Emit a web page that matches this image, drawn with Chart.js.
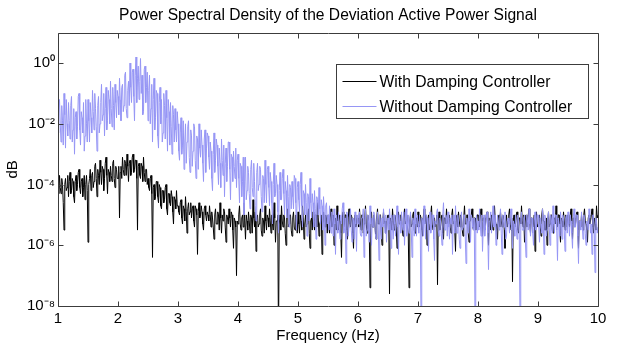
<!DOCTYPE html>
<html>
<head>
<meta charset="utf-8">
<title>Power Spectral Density</title>
<script src="https://cdn.jsdelivr.net/npm/chart.js@4.4.0/dist/chart.umd.min.js"></script>
<style>
  html, body { margin: 0; padding: 0; background: #fff; }
  canvas { display: block; }
</style>
</head>
<body>
<canvas id="psdChart" width="624" height="351"></canvas>
<script>
// Frequency bins of the PSD estimate (Hz)
const freqStart = 1;
const freqStep = 0.0125;

// log10 of the PSD, one value per bin (rows of 0.5 Hz)
const withDampingLog = [
    -4.0,-4.3,-3.7,-4.1,-4.3,-3.8,-4.0,-4.6,-5.5,-4.0,-3.8,-4.2,-4.1,-3.7,-4.4,-3.9,-3.6,-4.3,-4.2,-3.8,-3.9,-4.4,-4.6,-3.9,-3.7,-4.2,-4.0,-3.6,-3.5,-4.1,-4.3,-3.9,-3.8,-4.4,-4.1,-3.7,-4.5,-4.0,-3.7,-4.2,
    -5.9,-4.0,-3.8,-3.5,-4.2,-3.7,-3.6,-4.1,-3.9,-3.4,-3.3,-3.8,-4.4,-3.5,-3.7,-4.0,-3.2,-3.6,-4.0,-3.4,-3.5,-4.2,-3.8,-3.3,-3.1,-3.7,-4.3,-3.5,-3.6,-3.9,-3.4,-3.7,-3.9,-3.3,-3.2,-3.8,-4.1,-3.4,-3.5,-3.8,
    -3.8,-3.4,-5.1,-3.6,-3.4,-3.8,-3.1,-3.5,-3.7,-3.2,-3.3,-3.7,-3.0,-3.4,-3.9,-3.3,-3.2,-3.7,-3.6,-3.1,-3.0,-3.6,-3.5,-3.2,-3.2,-3.8,-5.5,-3.4,-3.3,-3.7,-3.8,-3.3,-3.4,-3.9,-3.1,-3.6,-3.9,-3.5,-3.5,-4.0,
    -3.8,-4.1,-4.2,-3.8,-3.7,-4.3,-6.4,-4.1,-4.0,-4.5,-4.4,-3.9,-3.9,-4.4,-4.6,-4.0,-4.1,-4.7,-4.8,-4.2,-4.2,-4.6,-4.5,-4.1,-4.0,-4.8,-5.0,-4.3,-4.3,-4.6,-4.7,-4.2,-4.4,-4.9,-5.3,-4.4,-4.5,-4.8,-4.2,-4.7,
    -4.7,-4.9,-5.0,-4.6,-4.5,-5.1,-5.3,-4.7,-4.8,-5.2,-4.4,-4.9,-5.6,-4.8,-4.6,-5.0,-4.9,-4.6,-5.1,-4.8,-4.7,-5.2,-5.4,-4.7,-4.8,-5.0,-6.3,-4.9,-4.6,-5.1,-5.0,-4.7,-4.9,-5.3,-5.5,-4.8,-4.7,-5.0,-5.2,-4.9,
    -5.0,-5.2,-4.7,-5.0,-5.4,-4.9,-5.1,-5.4,-5.8,-5.0,-4.8,-5.3,-5.3,-4.9,-5.0,-5.5,-4.6,-5.1,-5.6,-5.0,-5.2,-4.8,-4.9,-5.4,-5.9,-5.0,-5.1,-5.3,-4.8,-5.1,-5.4,-4.9,-5.0,-5.5,-6.1,-5.1,-5.2,-5.4,-7.0,-5.2,
    -5.3,-5.0,-4.7,-5.3,-5.5,-5.1,-5.0,-5.4,-4.6,-5.2,-5.8,-5.0,-5.2,-5.5,-4.9,-5.2,-5.6,-5.0,-5.1,-5.6,-4.5,-5.1,-5.4,-4.9,-6.2,-5.1,-5.0,-5.4,-5.3,-5.0,-4.8,-5.5,-5.7,-5.1,-5.2,-5.6,-4.7,-5.2,-5.5,-5.0,
    -5.1,-5.4,-4.8,-5.2,-5.6,-5.0,-5.3,-5.5,-4.6,-5.1,-5.9,-5.2,-5.2,-5.0,-9.2,-5.3,-5.0,-5.5,-4.7,-5.2,-5.4,-5.0,-5.1,-5.6,-6.0,-5.1,-4.8,-5.4,-5.3,-5.0,-5.0,-5.5,-5.7,-5.1,-4.9,-5.4,-5.5,-5.0,-5.2,-5.6,
    -4.9,-5.3,-5.6,-5.0,-5.2,-5.5,-4.7,-5.1,-5.8,-5.3,-5.0,-5.4,-5.3,-5.0,-4.8,-5.6,-6.1,-5.2,-5.1,-5.5,-4.9,-5.2,-5.5,-5.0,-5.0,-5.4,-4.6,-5.1,-5.7,-5.3,-5.2,-5.0,-6.3,-5.4,-4.9,-5.2,-5.4,-5.0,-5.1,-5.6,
    -5.0,-5.3,-5.6,-5.1,-4.8,-5.4,-5.3,-5.0,-6.0,-5.2,-5.1,-5.5,-4.7,-5.2,-5.5,-5.0,-5.2,-5.6,-6.4,-5.1,-4.9,-5.4,-5.3,-5.0,-5.0,-5.5,-5.8,-5.1,-4.8,-5.3,-5.4,-5.0,-5.1,-5.6,-6.1,-5.2,-5.0,-5.4,-5.3,-5.1,
    -5.1,-5.4,-4.8,-5.2,-5.5,-5.0,-5.0,-5.6,-5.3,-5.1,-4.7,-5.3,-5.6,-5.0,-5.2,-5.5,-7.4,-5.2,-4.9,-5.4,-5.4,-5.0,-5.1,-5.5,-5.8,-5.1,-4.8,-5.3,-5.3,-5.0,-5.0,-5.6,-6.0,-5.2,-4.9,-5.3,-5.2,-5.6,-5.5,-5.1,
    -5.0,-5.3,-7.6,-5.1,-5.2,-5.5,-4.8,-5.2,-5.5,-5.0,-5.1,-5.4,-6.1,-5.1,-4.9,-5.3,-5.3,-5.0,-5.0,-5.5,-5.7,-5.1,-4.8,-5.3,-5.2,-5.0,-5.4,-5.6,-7.4,-5.2,-5.0,-5.4,-5.3,-5.0,-4.9,-5.5,-5.6,-5.1,-5.1,-5.4,
    -4.9,-5.2,-5.4,-5.0,-5.1,-5.5,-5.7,-5.1,-4.8,-5.3,-5.2,-5.0,-6.0,-5.2,-5.0,-5.5,-5.3,-5.0,-4.7,-5.3,-5.5,-5.1,-5.1,-5.4,-5.2,-5.0,-7.3,-5.2,-4.9,-5.5,-5.4,-5.1,-5.0,-5.6,-5.8,-5.1,-5.1,-5.3,-4.8,-5.2,
    -5.3,-5.1,-5.0,-5.4,-5.6,-5.0,-4.8,-5.3,-5.2,-5.5,-6.2,-5.1,-5.0,-5.4,-4.9,-5.2,-5.4,-5.0,-5.1,-5.5,-5.7,-5.1,-4.7,-5.3,-5.3,-5.0,-5.0,-5.6,-5.9,-5.2,-5.2,-5.0,-4.8,-5.4,-5.5,-5.1,-5.1,-5.5,-5.3,-5.0,
    -5.0,-5.3,-5.4,-5.0,-4.8,-5.2,-5.7,-5.1,-5.1,-5.5,-5.3,-5.0,-4.9,-5.4,-6.0,-5.1,-5.2,-5.5,-5.0,-5.3,-5.5,-5.0,-4.7,-5.2,-5.3,-5.5,-5.8,-5.1,-5.0,-5.4,-4.9,-5.2,-5.4,-5.0,-5.1,-5.5,-6.1,-5.2,-5.0,-5.4,
    -5.2,-5.0,-4.8,-5.3,-5.5,-5.1,-7.2,-5.2,-5.0,-5.4,-5.3,-5.0,-4.9,-5.5,-5.6,-5.1,-5.1,-5.3,-4.7,-5.2,-5.4,-5.0,-5.9,-5.2,-5.0,-5.4,-5.2,-5.0,-4.8,-5.3,-5.6,-5.1,-5.1,-5.4,-5.3,-5.0,-6.2,-5.2,-4.9,-5.4,
    -5.3,-5.1,-5.0,-5.4,-5.7,-5.0,-4.8,-5.2,-5.2,-5.5,-5.5,-5.1,-6.0,-5.2,-4.9,-5.4,-5.3,-5.0,-5.0,-5.5,-5.6,-5.1,-5.1,-5.3,-4.7,-5.2,-5.4,-5.0,-5.0,-5.5,-5.9,-5.1,-5.2,-5.4,-4.9,-5.2,-5.5,-5.0,-5.1,-5.4,
    -5.0,-5.2,-5.4,-5.0,-4.8,-5.3,-5.8,-5.1,-5.1,-5.4,-5.3,-5.0,-4.9,-5.5,-6.1,-5.2,-5.2,-5.4,-5.0,-5.3,-5.5,-5.0,-4.8,-5.2,-5.3,-5.5,-5.9,-5.1,-5.0,-5.3,-5.2,-5.0,-4.8,-5.4,-5.6,-5.1,-5.3,-5.5,-4.7,-5.1,
    -5.0
];
const withoutDampingLog = [
    -2.3,-1.5,-1.2,-2.0,-2.6,-1.4,-1.9,-2.7,-1.0,-1.7,-2.8,-1.2,-2.0,-2.4,-1.3,-1.9,-2.5,-1.4,-1.1,-2.6,-2.2,-1.5,-3.0,-1.8,-1.6,-2.5,-2.1,-1.1,-1.0,-2.2,-2.7,-1.6,-1.8,-2.3,-1.3,-2.9,-2.4,-1.2,-2.0,-2.6,
    -1.2,-1.9,-2.6,-1.3,-1.8,-2.3,-0.9,-1.6,-2.2,-1.0,-1.5,-2.1,-2.9,-1.4,-1.1,-2.3,-2.0,-1.3,-0.7,-1.9,-1.7,-1.0,-2.4,-1.5,-0.8,-2.2,-1.9,-0.9,-1.2,-2.0,-0.6,-1.5,-2.1,-0.8,-1.4,-2.2,-0.7,-1.3,-1.8,-0.9,
    -1.1,-1.7,-0.5,-1.2,-1.9,-0.8,-0.7,-1.6,-1.4,-0.4,-0.3,-1.5,-1.8,-0.9,-0.6,-1.4,0.0,-0.8,-1.3,-0.3,-0.2,-1.1,-1.9,-0.4,0.2,-1.3,-0.5,-0.1,-1.2,-0.6,0.15,-1.0,-0.4,-1.7,-1.6,-0.2,-0.1,-1.3,-0.8,-0.3,
    -1.9,-0.9,-0.4,-2.0,-1.5,-0.7,-2.6,-1.2,-0.5,-2.2,-1.8,-0.9,-1.0,-2.4,-2.8,-1.3,-0.8,-2.0,-1.2,-2.6,-2.3,-1.0,-1.4,-2.5,-0.9,-1.8,-2.9,-1.2,-1.6,-2.7,-1.3,-2.1,-3.0,-1.4,-1.7,-2.6,-1.5,-2.2,-2.6,-1.6,
    -2.0,-2.9,-3.2,-2.3,-1.8,-3.0,-2.7,-1.9,-3.5,-2.6,-2.0,-3.3,-2.6,-2.1,-1.9,-3.1,-3.6,-2.2,-2.4,-3.4,-2.9,-2.0,-2.1,-3.2,-3.8,-2.4,-2.5,-3.5,-2.0,-2.8,-3.1,-2.2,-2.7,-3.3,-3.9,-2.5,-2.2,-3.6,-2.8,-2.3,
    -2.4,-3.1,-3.5,-2.6,-2.9,-3.8,-4.2,-3.0,-2.3,-3.6,-3.2,-2.5,-2.7,-3.4,-4.0,-2.8,-3.3,-4.1,-2.5,-3.2,-3.7,-2.7,-4.4,-3.3,-2.8,-3.9,-3.4,-2.6,-2.6,-3.5,-4.5,-3.0,-3.1,-3.9,-2.9,-3.4,-3.8,-2.8,-4.1,-3.2,
    -3.0,-3.8,-4.6,-3.3,-3.4,-4.4,-3.9,-3.1,-5.0,-3.9,-3.1,-4.5,-4.2,-3.4,-3.6,-4.3,-4.8,-3.5,-3.2,-4.1,-4.4,-3.3,-3.9,-4.7,-5.2,-3.6,-3.3,-4.2,-4.0,-3.4,-3.5,-4.4,-4.9,-3.7,-3.8,-4.6,-3.2,-4.0,-4.6,-3.5,
    -3.4,-4.1,-4.7,-3.6,-3.9,-4.6,-5.3,-4.0,-3.3,-4.4,-4.3,-3.7,-4.0,-4.9,-5.6,-4.2,-3.6,-4.5,-4.5,-3.8,-3.5,-4.3,-5.0,-3.9,-4.2,-5.1,-3.7,-4.4,-5.4,-4.0,-4.1,-4.8,-3.9,-4.4,-4.8,-3.7,-3.8,-4.6,-5.5,-4.1,
    -3.9,-4.5,-4.9,-4.0,-3.6,-4.7,-5.4,-4.2,-4.3,-5.0,-4.0,-4.6,-5.7,-4.3,-4.4,-5.2,-3.8,-4.6,-5.1,-4.3,-4.6,-5.4,-4.2,-4.8,-5.8,-4.4,-4.5,-5.0,-4.1,-4.8,-5.3,-4.5,-4.7,-5.5,-4.4,-4.9,-6.0,-4.7,-4.6,-5.3,
    -5.0,-5.5,-4.7,-5.2,-5.6,-4.9,-5.1,-5.7,-4.8,-5.3,-6.3,-5.0,-5.2,-5.6,-4.9,-5.4,-5.8,-5.0,-5.3,-4.8,-4.6,-5.6,-5.5,-5.1,-6.6,-4.9,-5.0,-5.7,-5.4,-5.0,-4.8,-5.5,-5.9,-5.1,-5.2,-5.8,-4.9,-5.3,-6.2,-5.0,
    -5.3,-5.0,-4.9,-5.6,-5.7,-5.1,-5.1,-4.8,-6.4,-5.2,-4.8,-5.7,-5.5,-5.0,-5.2,-5.9,-4.7,-5.3,-6.0,-5.1,-5.4,-4.9,-5.0,-5.6,-5.8,-5.2,-4.9,-5.4,-6.5,-5.0,-5.3,-5.8,-5.1,-5.4,-4.8,-5.2,-5.6,-5.0,-5.9,-5.3,
    -5.1,-5.5,-4.8,-5.2,-6.1,-5.0,-5.4,-5.8,-5.0,-5.3,-5.7,-5.1,-4.7,-5.4,-6.3,-5.0,-5.2,-5.6,-4.9,-5.3,-5.5,-4.9,-6.0,-5.2,-4.8,-5.7,-5.3,-5.0,-5.6,-5.2,-4.9,-5.5,-6.4,-5.1,-5.2,-5.7,-4.8,-5.3,-5.7,-5.0,
    -5.3,-5.6,-5.0,-5.4,-8.4,-5.1,-5.2,-5.7,-4.7,-5.3,-5.8,-5.0,-5.1,-5.5,-6.2,-5.1,-4.9,-5.6,-5.4,-5.0,-5.0,-5.8,-6.5,-5.2,-5.3,-4.9,-4.8,-5.5,-5.7,-5.1,-5.2,-5.6,-6.0,-5.0,-4.6,-5.4,-5.5,-5.0,-5.1,-5.7,
    -4.9,-5.4,-5.8,-5.1,-5.3,-5.0,-6.3,-5.2,-5.0,-5.6,-4.7,-5.3,-5.6,-5.0,-5.2,-5.8,-6.1,-5.1,-4.9,-5.5,-5.4,-5.0,-5.0,-5.7,-6.6,-5.1,-5.3,-5.6,-4.8,-5.2,-5.9,-5.0,-5.1,-5.4,-5.5,-5.1,-8.4,-5.3,-5.0,-5.6,
    -5.2,-5.5,-4.8,-5.3,-5.7,-5.0,-6.2,-5.4,-5.0,-5.7,-5.4,-5.1,-4.9,-5.6,-6.8,-5.2,-5.1,-4.9,-5.6,-5.2,-4.7,-5.4,-5.3,-5.0,-6.0,-5.5,-5.0,-5.3,-5.5,-5.1,-4.8,-5.6,-6.3,-5.0,-5.2,-5.4,-4.9,-5.8,-5.7,-5.2,
    -5.1,-5.3,-5.6,-5.0,-4.8,-5.5,-6.1,-5.2,-5.3,-5.7,-5.0,-5.4,-5.8,-5.0,-5.2,-5.6,-8.4,-5.1,-4.9,-5.5,-5.5,-5.1,-5.0,-5.7,-6.4,-5.0,-5.2,-5.5,-4.8,-5.3,-5.7,-5.1,-5.1,-5.6,-6.0,-5.2,-4.9,-5.5,-5.4,-5.0,
    -5.0,-5.4,-5.9,-5.1,-5.3,-5.6,-4.8,-5.2,-6.3,-5.0,-5.1,-5.7,-5.5,-5.1,-4.9,-5.4,-6.0,-5.0,-5.2,-5.6,-4.7,-5.3,-5.6,-5.0,-5.0,-5.5,-6.5,-5.1,-5.3,-5.7,-4.9,-5.2,-5.8,-5.0,-5.1,-5.5,-6.2,-5.1,-5.0,-5.6,
    -4.9,-5.3,-5.7,-5.0,-5.2,-5.6,-6.1,-5.1,-4.8,-5.4,-5.4,-5.0,-5.0,-5.7,-6.6,-5.2,-5.2,-5.5,-4.9,-5.3,-5.8,-5.0,-5.1,-5.6,-6.0,-5.2,-5.3,-5.5,-4.8,-5.1,-5.6,-5.3,-6.3,-5.0,-5.0,-5.5,-6.9,-5.1,-5.2,-5.6,
    -5.4
];

const seriesLabels = ['With Damping Controller', 'Without Damping Controller'];
const xTickValues = [1, 2, 3, 4, 5, 6, 7, 8, 9, 10];
const yTickExponents = [-8, -6, -4, -2, 0];

const fontFamily = "'Liberation Sans', Arial, Helvetica, sans-serif";
const superscripts = { '-': '\u207B', '0': '\u2070', '1': '\u00B9', '2': '\u00B2', '4': '\u2074', '6': '\u2076', '8': '\u2078' };

function toPoints(logValues) {
    return logValues.map((v, i) => ({ x: freqStart + i * freqStep, y: Math.pow(10, v) }));
}

// MATLAB style box, inward ticks and boxed legend
const matlabFrame = {
    id: 'matlabFrame',
    afterDatasetsDraw(chart) {
        const { ctx, chartArea: a, scales: { x, y } } = chart;
        const left = Math.round(a.left) + 0.5;
        const right = Math.round(a.right) + 0.5;
        const top = Math.round(a.top) + 0.5;
        const bottom = Math.round(a.bottom) + 0.5;
        const tick = 5;

        ctx.save();
        ctx.strokeStyle = '#3c3c3c';
        ctx.lineWidth = 1;
        ctx.beginPath();
        ctx.rect(left, top, right - left, bottom - top);
        x.ticks.forEach(t => {
            const px = Math.round(x.getPixelForValue(t.value)) + 0.5;
            ctx.moveTo(px, bottom); ctx.lineTo(px, bottom - tick);
            ctx.moveTo(px, top); ctx.lineTo(px, top + tick);
        });
        y.ticks.forEach(t => {
            const py = Math.round(y.getPixelForValue(t.value)) + 0.5;
            ctx.moveTo(left, py); ctx.lineTo(left + tick, py);
            ctx.moveTo(right, py); ctx.lineTo(right - tick, py);
        });
        ctx.stroke();

        // legend box
        const lx = 336.5, ly = 64.5, lw = 252, lh = 54;
        ctx.fillStyle = '#fff';
        ctx.fillRect(lx, ly, lw, lh);
        ctx.strokeRect(lx, ly, lw, lh);
        ctx.font = '15.7px ' + fontFamily;
        ctx.textBaseline = 'middle';
        ctx.textAlign = 'left';
        chart.data.datasets.forEach((ds, i) => {
            const rowY = Math.round(ly + 16 + i * 25) + 0.5;
            ctx.strokeStyle = ds.borderColor;
            ctx.beginPath();
            ctx.moveTo(lx + 6, rowY);
            ctx.lineTo(lx + 40, rowY);
            ctx.stroke();
            ctx.fillStyle = '#000';
            ctx.fillText(ds.label, lx + 43, rowY + 1);
        });
        ctx.restore();
    }
};

new Chart(document.getElementById('psdChart'), {
    type: 'line',
    data: {
        datasets: [{
            label: seriesLabels[0],
            data: toPoints(withDampingLog),
            borderColor: '#000000',
            borderWidth: 1,
            pointRadius: 0,
            tension: 0,
            order: 1
        }, {
            label: seriesLabels[1],
            data: toPoints(withoutDampingLog),
            borderColor: 'rgb(150, 150, 245)',
            borderWidth: 1,
            pointRadius: 0,
            tension: 0,
            order: 0
        }]
    },
    options: {
        responsive: false,
        animation: false,
        layout: {
            padding: { top: 0, right: 26, bottom: 0, left: 0 }
        },
        scales: {
            x: {
                type: 'linear',
                min: 1,
                max: 10,
                afterBuildTicks: scale => {
                    scale.ticks = xTickValues.map(v => ({ value: v }));
                },
                afterFit: scale => { scale.height = 45; },
                grid: { display: false, drawTicks: false },
                border: { display: false },
                ticks: {
                    padding: 4,
                    color: '#000',
                    font: { family: fontFamily, size: 15 },
                    maxRotation: 0,
                    autoSkip: false,
                    callback: v => String(v)
                },
                title: {
                    display: true,
                    text: 'Frequency (Hz)',
                    color: '#000',
                    font: { family: fontFamily, size: 15 },
                    padding: { top: 0, bottom: 6 }
                }
            },
            y: {
                type: 'logarithmic',
                min: 1e-8,
                max: 1e1,
                afterBuildTicks: scale => {
                    scale.ticks = yTickExponents.map(e => ({ value: Math.pow(10, e) }));
                },
                afterFit: scale => { scale.width = 58; },
                grid: { display: false, drawTicks: false },
                border: { display: false },
                ticks: {
                    padding: 3,
                    color: '#000',
                    font: { family: fontFamily, size: 15 },
                    callback: v => '10' + String(Math.round(Math.log10(v))).split('').map(c => superscripts[c]).join('')
                },
                title: {
                    display: true,
                    text: 'dB',
                    color: '#000',
                    font: { family: fontFamily, size: 15 },
                    padding: { top: 4, bottom: 0 }
                }
            }
        },
        plugins: {
            legend: { display: false },
            tooltip: { enabled: false },
            title: {
                display: true,
                text: 'Power Spectral Density of the Deviation Active Power Signal',
                color: '#000',
                fullSize: false,
                font: { family: fontFamily, size: 15.6, weight: 'normal' },
                padding: { top: 6, bottom: 8 }
            }
        }
    },
    plugins: [matlabFrame]
});
</script>
</body>
</html>
